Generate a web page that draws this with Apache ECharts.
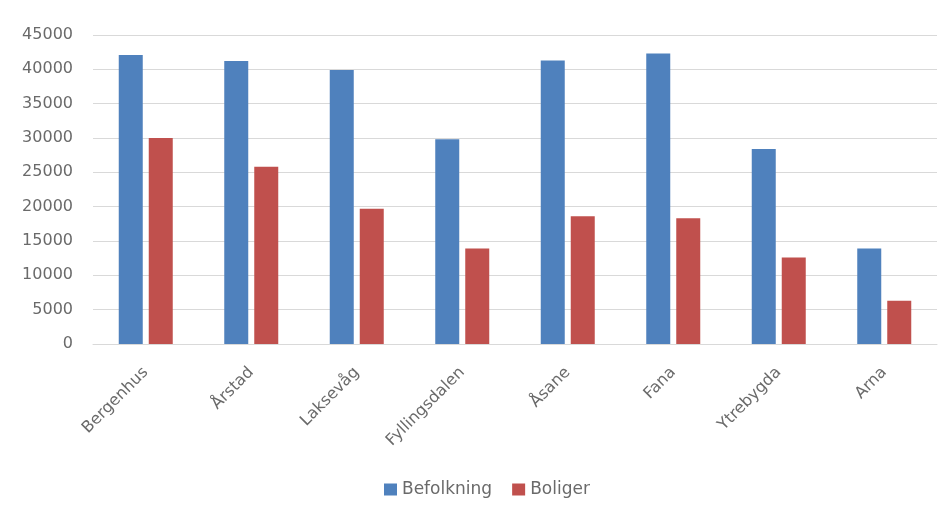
<!DOCTYPE html>
<html>
<head>
<meta charset="utf-8">
<script src="https://cdn.jsdelivr.net/npm/echarts@6/dist/echarts.min.js"></script>
<style>
  html, body { margin: 0; padding: 0; background: #ffffff; }
  #chart { width: 951px; height: 515px; }
</style>
</head>
<body>
<div id="chart"></div>
<script>
// Bydeler i Bergen: befolkning og antall boliger
const categories = ['Bergenhus', 'Årstad', 'Laksevåg', 'Fyllingsdalen', 'Åsane', 'Fana', 'Ytrebygda', 'Arna'];
const befolkning = [42100, 41200, 39900, 29800, 41300, 42300, 28400, 13900];
const boliger = [30000, 25800, 19700, 13900, 18600, 18300, 12600, 6300];
const seriesNames = ['Befolkning', 'Boliger'];

const FONT = 'DejaVu Sans';
const TEXT = '#6a6a6a';

const chart = echarts.init(document.getElementById('chart'), null, { renderer: 'canvas' });

chart.setOption({
  animation: false,
  backgroundColor: '#ffffff',
  textStyle: { fontFamily: FONT },
  grid: { left: 93, right: 14, top: 35, bottom: 171, containLabel: false },
  legend: {
    data: seriesNames,
    bottom: 12,
    left: 379,
    itemWidth: 13,
    itemHeight: 12,
    itemGap: 20,
    icon: 'rect',
    textStyle: { fontFamily: FONT, fontSize: 17, color: TEXT }
  },
  xAxis: {
    type: 'category',
    data: categories,
    axisLine: { lineStyle: { color: '#d9d9d9', width: 1 } },
    axisTick: { show: false },
    axisLabel: {
      rotate: 45,
      margin: 26,
      fontFamily: FONT,
      fontSize: 16,
      color: TEXT
    }
  },
  yAxis: {
    type: 'value',
    min: 0,
    max: 45000,
    interval: 5000,
    axisLine: { show: false },
    axisTick: { show: false },
    splitLine: { lineStyle: { color: '#d9d9d9', width: 1 } },
    axisLabel: {
      margin: 20,
      fontFamily: FONT,
      fontSize: 16,
      color: TEXT,
      formatter: (v) => String(v)
    }
  },
  series: [
    {
      name: seriesNames[0],
      type: 'bar',
      data: befolkning,
      barWidth: 24,
      barGap: '25%',
      itemStyle: { color: '#4F81BD' }
    },
    {
      name: seriesNames[1],
      type: 'bar',
      data: boliger,
      barWidth: 24,
      itemStyle: { color: '#C0504D' }
    }
  ]
});
</script>
</body>
</html>
